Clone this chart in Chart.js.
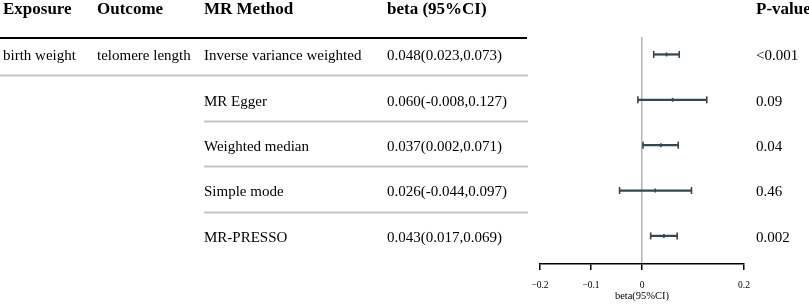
<!DOCTYPE html>
<html>
<head>
<meta charset="utf-8">
<script src="https://cdn.jsdelivr.net/npm/chart.js@4.4.1/dist/chart.umd.min.js"></script>
<style>
  html, body { margin: 0; padding: 0; background: #fff; }
  #wrap { width: 809px; height: 305px; position: relative; }
</style>
</head>
<body>
<div id="wrap"><canvas id="forest"></canvas></div>
<script>
// table columns
var headers = ['Exposure', 'Outcome', 'MR Method', 'beta (95%CI)', 'P-value'];
var exposure = 'birth weight';
var outcome = 'telomere length';
var methods = ['Inverse variance weighted', 'MR Egger', 'Weighted median', 'Simple mode', 'MR-PRESSO'];
var beta = [0.048, 0.060, 0.037, 0.026, 0.043];
var lower = [0.023, -0.008, 0.002, -0.044, 0.017];
var upper = [0.073, 0.127, 0.071, 0.097, 0.069];
var pValues = ['<0.001', '0.09', '0.04', '0.46', '0.002'];
var xTicks = [-0.2, -0.1, 0, 0.2];

var SERIF = '"Liberation Serif", "Times New Roman", serif';
var barColor = '#36474f';

function fmt(v) {
  return v.toFixed(3);
}
function ciText(i) {
  return fmt(beta[i]) + '(' + fmt(lower[i]) + ',' + fmt(upper[i]) + ')';
}

// draws the table part on the left, lined up with the y scale rows
var tablePlugin = {
  id: 'forestTable',
  afterDraw: function (chart) {
    var ctx = chart.ctx;
    var yScale = chart.scales.y;
    var cols = [3, 97, 204, 387, 756];

    ctx.save();
    ctx.fillStyle = '#000';
    ctx.font = 'bold 17px ' + SERIF;
    ctx.textBaseline = 'alphabetic';
    headers.forEach(function (h, c) {
      ctx.fillText(h, cols[c], 14);
    });

    // header rule
    ctx.strokeStyle = '#000';
    ctx.lineWidth = 2;
    ctx.beginPath();
    ctx.moveTo(0, 38);
    ctx.lineTo(527, 38);
    ctx.stroke();

    ctx.font = '15px ' + SERIF;
    ctx.textBaseline = 'middle';
    methods.forEach(function (m, i) {
      var y = yScale.getPixelForValue(i) + 2;
      if (i === 0) {
        ctx.fillText(exposure, cols[0], y);
        ctx.fillText(outcome, cols[1], y);
      }
      ctx.fillText(m, cols[2], y);
      ctx.fillText(ciText(i), cols[3], y);
      ctx.fillText(pValues[i], cols[4], y);

      // row separators
      if (i < methods.length - 1) {
        var ly = Math.round(yScale.getPixelForValue(i) + 21) + 0.5;
        ctx.strokeStyle = '#c4c4c4';
        ctx.lineWidth = 2;
        ctx.beginPath();
        ctx.moveTo(i === 0 ? 0 : 204, ly);
        ctx.lineTo(528, ly);
        ctx.stroke();
      }
    });
    ctx.restore();
  }
};

var ciData = methods.map(function (m, i) { return { x: [lower[i], upper[i]], y: i }; });
var capData = [];
methods.forEach(function (m, i) {
  capData.push({ x: lower[i], y: i });
  capData.push({ x: upper[i], y: i });
});
var estData = methods.map(function (m, i) { return { x: beta[i], y: i }; });

var canvas = document.getElementById('forest');
new Chart(canvas, {
  type: 'bar',
  data: {
    datasets: [
      {
        type: 'bar',
        data: ciData,
        indexAxis: 'y',
        backgroundColor: barColor,
        barThickness: 1.6,
        borderWidth: 0,
      },
      {
        type: 'scatter',
        data: capData,
        pointStyle: 'line',
        rotation: 90,
        radius: 3.5,
        borderColor: barColor,
        borderWidth: 1.6,
      },
      {
        type: 'scatter',
        data: estData,
        pointStyle: 'line',
        rotation: 90,
        radius: 2,
        borderColor: barColor,
        borderWidth: 1.6,
      },
    ],
  },
  options: {
    responsive: true,
    maintainAspectRatio: false,
    animation: false,
    indexAxis: 'y',
    layout: {
      padding: { left: 540, right: 65, top: 37, bottom: 2 },
    },
    plugins: {
      legend: { display: false },
      tooltip: { enabled: false },
    },
    scales: {
      x: {
        type: 'linear',
        min: -0.2,
        max: 0.2,
        afterBuildTicks: function (scale) {
          scale.ticks = xTicks.map(function (v) { return { value: v }; });
        },
        border: { display: true, color: '#000', width: 1.5 },
        grid: {
          drawOnChartArea: true,
          color: function (c) {
            return c.tick && c.tick.value === 0 ? '#b3b3b3' : 'rgba(0,0,0,0)';
          },
          lineWidth: 1.5,
          tickColor: '#000',
          tickWidth: 1.5,
          tickLength: 6,
        },
        ticks: {
          color: '#000',
          font: { family: SERIF, size: 9.5 },
          padding: 10,
          maxRotation: 0,
          callback: function (v) {
            return v < 0 ? '\u2212' + String(-v) : String(v);
          },
        },
        title: {
          display: true,
          text: 'beta(95%CI)',
          color: '#000',
          font: { family: SERIF, size: 10.5 },
          padding: { top: -11, bottom: 0 },
        },
      },
      y: {
        type: 'linear',
        display: false,
        reverse: true,
        offset: false,
        min: -0.385,
        max: 4.62,
      },
    },
  },
  plugins: [tablePlugin],
});
</script>
</body>
</html>
